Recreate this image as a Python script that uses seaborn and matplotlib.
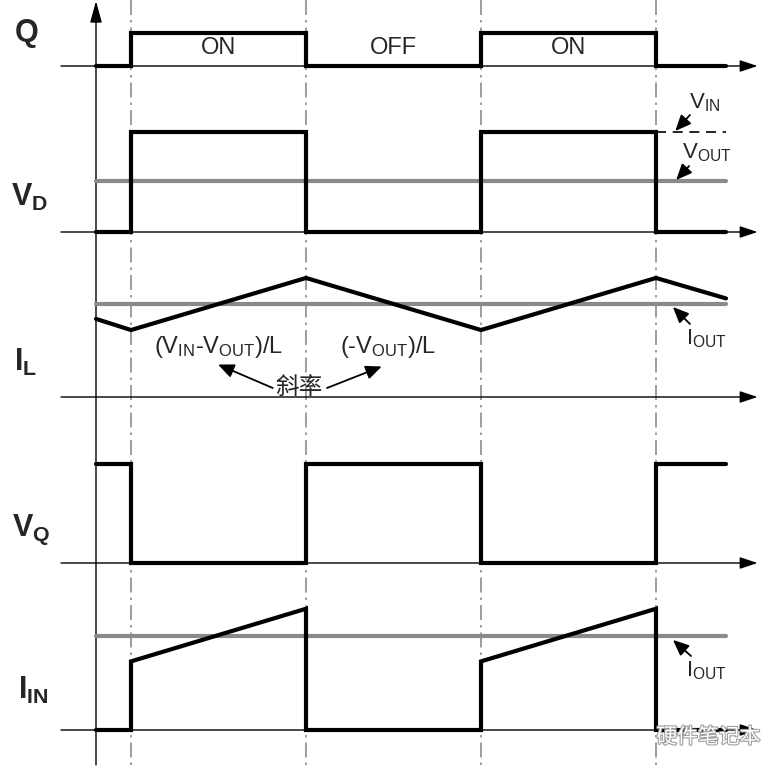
import numpy as np
import matplotlib
matplotlib.use("Agg")
import matplotlib.pyplot as plt
import matplotlib.patheffects as pe
import seaborn as sns

# switching edges (time in units of half a period)
edges = [0, 1, 2, 3]
t_start, t_end = -0.2, 3.4

# gate signal Q and diode voltage V_D (0 = low, 1 = high)
t_q = [t_start, 0, 1, 2, 3, t_end]
q = [0, 1, 0, 1, 0, 0]
vd = [0, 1, 0, 1, 0, 0]
vout = 0.51

# inductor current (I_OUT = 1)
t_il = [t_start, 0, 1, 2, 3, t_end]
il = [0.84, 0.72, 1.28, 0.72, 1.28, 1.06]
iout = 1.0

# switch voltage V_Q
vq = [1, 0, 1, 0, 1, 1]

# input current
t_iin = [t_start, 0, 0, 1, 1, 2, 2, 3, 3, t_end]
iin = [0, 0, 0.73, 1.29, 0, 0, 0.73, 1.29, 0, 0]

phase_labels = ["ON", "OFF", "ON"]

sns.set_theme(style="white")
plt.rcParams["font.family"] = ["Liberation Sans", "Noto Sans CJK SC", "DejaVu Sans"]
plt.rcParams["mathtext.fontset"] = "custom"
plt.rcParams["mathtext.rm"] = "Liberation Sans"
plt.rcParams["mathtext.bf"] = "Liberation Sans:bold"

fig = plt.figure(figsize=(7.73, 7.70), dpi=100)
ax = fig.add_axes([0, 0, 1, 1])
ax.set_xlim(-131 / 175, 642 / 175)
ax.set_ylim(770, 0)
ax.axis("off")

# rows: baseline (px) and scale (px per unit)
rows = {"Q": (66, 33), "VD": (232, 100), "IL": (397, 93), "VQ": (563, 99), "IIN": (730, 94)}

def y(row, vals):
    base, sc = rows[row]
    return base - np.asarray(vals, dtype=float) * sc

sig = dict(color="black", linewidth=3.0, solid_joinstyle="miter")
gray = dict(color="#8a8a8a", linewidth=3.0, solid_capstyle="round")

# dash-dot guides
for e in edges:
    ax.plot([e, e], [0, 770], color="#8c8c8c", linewidth=1.2, linestyle=(0, (9, 3, 1.5, 3)), zorder=1)

# axes with arrows
for row, (base, sc) in rows.items():
    ax.annotate("", xy=(3.58, base), xytext=(-0.40, base),
                arrowprops=dict(arrowstyle="-|>,head_length=0.9,head_width=0.3", color="black", lw=1.0,
                                shrinkA=0, shrinkB=0), zorder=2)
ax.annotate("", xy=(-0.2, 1), xytext=(-0.2, 765),
            arrowprops=dict(arrowstyle="-|>,head_length=1.1,head_width=0.3", color="black", lw=1.0,
                            shrinkA=0, shrinkB=0), zorder=2)

# Q
sns.lineplot(x=t_q, y=y("Q", q), ax=ax, sort=False, estimator=None, drawstyle="steps-post", **sig)
for i, lab in enumerate(phase_labels):
    ax.text(edges[i] + 0.5, 48, lab, ha="center", va="center", fontsize=17)

# V_D
sns.lineplot(x=[t_start, t_end], y=y("VD", [vout, vout]), ax=ax, estimator=None, **gray)
sns.lineplot(x=t_q, y=y("VD", vd), ax=ax, sort=False, estimator=None, drawstyle="steps-post", **sig)
ax.plot([3, t_end], y("VD", [1, 1]), color="black", linewidth=1.2, linestyle=(0, (6, 4)))

# I_L
sns.lineplot(x=[t_start, t_end], y=y("IL", [iout, iout]), ax=ax, estimator=None, **gray)
sns.lineplot(x=t_il, y=y("IL", il), ax=ax, sort=False, estimator=None, **sig)

# V_Q
sns.lineplot(x=t_q, y=y("VQ", vq), ax=ax, sort=False, estimator=None, drawstyle="steps-post", **sig)

# I_IN
sns.lineplot(x=[t_start, t_end], y=y("IIN", [iout, iout]), ax=ax, estimator=None, **gray)
sns.lineplot(x=t_iin, y=y("IIN", iin), ax=ax, sort=False, estimator=None, **sig)

# row labels
big = dict(fontsize=22, ha="center", va="center", fontweight="bold")
ax.text(-0.60, 33, r"$\mathbf{Q}$", **big)
ax.text(-0.58, 197, r"$\mathbf{V_D}$", **big)
ax.text(-0.60, 362, r"$\mathbf{I_L}$", **big)
ax.text(-0.57, 530, r"$\mathbf{V_Q}$", **big)
ax.text(-0.56, 690, r"$\mathbf{I_{IN}}$", **big)

# annotations: label text, then arrow from tail to tip
arr = dict(arrowstyle="-|>,head_length=0.8,head_width=0.35", color="black", lw=1.3, shrinkA=0, shrinkB=1)
small = dict(fontsize=16, ha="left", va="center")
notes = [
    (r"$\mathrm{V_{IN}}$", (3.19, 103), (3.194, 115), (3.105, 132)),
    (r"$\mathrm{V_{OUT}}$", (3.15, 153), (3.189, 166), (3.110, 181)),
    (r"$\mathrm{I_{OUT}}$", (3.17, 339), (3.194, 324), (3.091, 306)),
    (r"$\mathrm{I_{OUT}}$", (3.17, 671), (3.200, 656), (3.091, 639)),
]
for lab, pos, tail, tip in notes:
    ax.text(pos[0], pos[1], lab, **small)
    ax.annotate("", xy=tip, xytext=tail, arrowprops=arr)

ax.text(0.5, 347, r"$\mathrm{(V_{IN}\text{-}V_{OUT})/L}$", fontsize=17, ha="center", va="center")
ax.text(1.47, 347, r"$\mathrm{(\text{-}V_{OUT})/L}$", fontsize=17, ha="center", va="center")
ax.text(0.96, 387, "斜率", fontsize=17, ha="center", va="center", family=["Noto Sans CJK SC"])
ax.annotate("", xy=(0.49, 364), xytext=(0.81, 388), arrowprops=arr)
ax.annotate("", xy=(1.44, 366), xytext=(1.12, 388), arrowprops=arr)

# watermark
ax.text(3.30, 737, "硬件笔记本", fontsize=15, ha="center", va="center", color="white",
        family=["Noto Sans CJK SC"],
        path_effects=[pe.withStroke(linewidth=1.5, foreground="#9a9a9a")])

fig.savefig("out.png", dpi=100)
